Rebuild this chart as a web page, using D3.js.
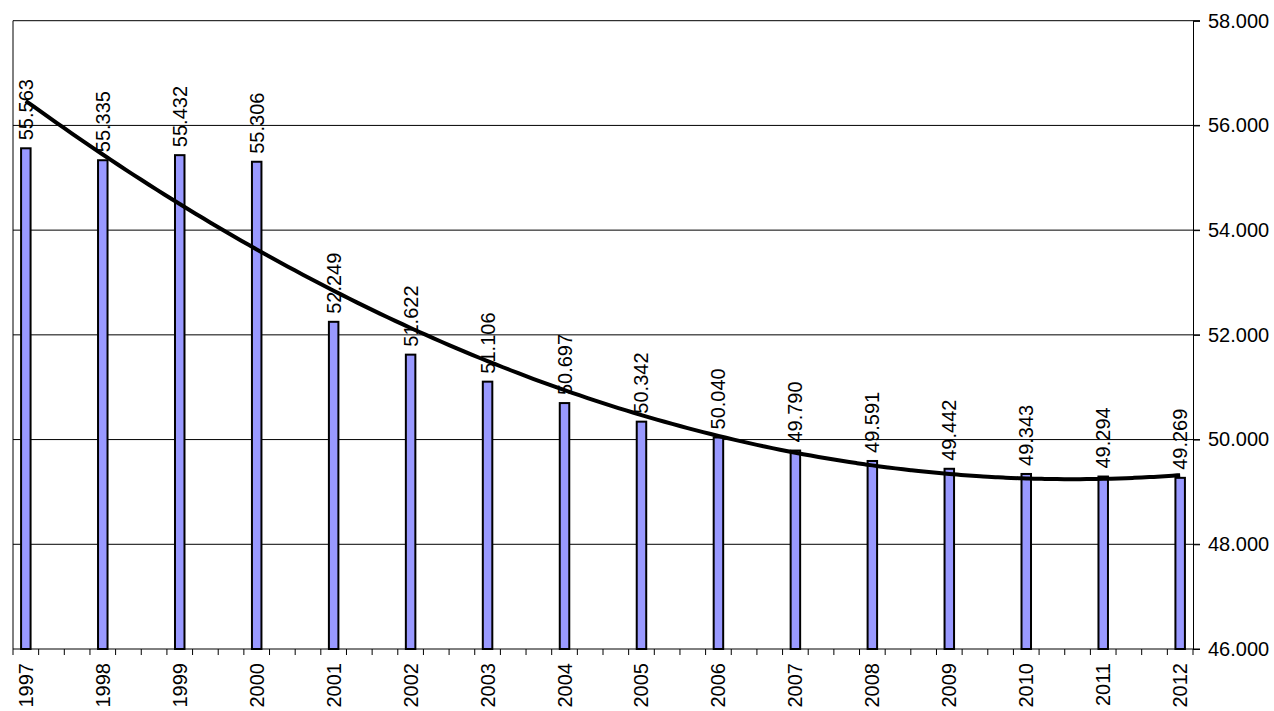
<!DOCTYPE html>
<html>
<head>
<meta charset="utf-8">
<script src="https://cdn.jsdelivr.net/npm/d3@7"></script>
<style>
  body { margin: 0; background: #fff; }
  svg text { font-family: "Liberation Sans", Arial, sans-serif; fill: #000; }
</style>
</head>
<body>
<svg id="chart" width="1274" height="711"></svg>
<script>
// chart data
const years = ["1997", "1998", "1999", "2000", "2001", "2002", "2003", "2004",
    "2005", "2006", "2007", "2008", "2009", "2010", "2011", "2012"];
const values = [55.563, 55.335, 55.432, 55.306, 52.249, 51.622, 51.106, 50.697,
    50.342, 50.040, 49.790, 49.591, 49.442, 49.343, 49.294, 49.269];
const yTicks = [46, 48, 50, 52, 54, 56, 58];
const slotsPerYear = 3; // category axis has three tick slots per year

const margin = { left: 13, right: 81, top: 20.7, bottom: 62 };
const width = 1274, height = 711;
const nSlots = (years.length - 1) * slotsPerYear + 1;

const svg = d3.select("#chart");

const x = d3.scaleBand()
    .domain(d3.range(nSlots))
    .range([margin.left, width - margin.right])
    .paddingInner(0).paddingOuter(0);

const y = d3.scaleLinear()
    .domain([46, 58])
    .range([height - margin.bottom, margin.top]);

const xc = i => x(i * slotsPerYear) + x.bandwidth() / 2;
const fmt = d3.format(".3f");

// gridlines (with the little tick stub to the right)
svg.append("g")
    .selectAll("line")
    .data(yTicks.filter(d => d > 46))
    .enter().append("line")
    .attr("x1", margin.left)
    .attr("x2", width - margin.right + 7)
    .attr("y1", d => y(d))
    .attr("y2", d => y(d))
    .attr("stroke", "#000")
    .attr("stroke-width", 1);

// left border
svg.append("line")
    .attr("x1", margin.left).attr("x2", margin.left)
    .attr("y1", y(58)).attr("y2", y(46))
    .attr("stroke", "#000");

// right value axis
const yAxis = svg.append("g")
    .attr("transform", `translate(${width - margin.right},0)`)
    .call(d3.axisRight(y).tickValues(yTicks).tickFormat(fmt).tickSize(7).tickPadding(8));
yAxis.select(".domain").attr("stroke", "#000");
yAxis.selectAll(".tick line").attr("stroke", "#000");
yAxis.selectAll("text").style("font-size", "20px").attr("fill", "#000");

// bars
const barW = 9.5;
svg.append("g")
    .selectAll("rect")
    .data(values)
    .enter().append("rect")
    .attr("x", (d, i) => xc(i) - barW / 2)
    .attr("width", barW)
    .attr("y", d => y(d))
    .attr("height", d => y(46) - y(d))
    .attr("fill", "#9999FF")
    .attr("stroke", "#000")
    .attr("stroke-width", 2);

// category axis
const xAxisY = y(46);
svg.append("line")
    .attr("x1", margin.left).attr("x2", width - margin.right + 7)
    .attr("y1", xAxisY).attr("y2", xAxisY)
    .attr("stroke", "#000");

svg.append("g")
    .selectAll("line")
    .data(d3.range(nSlots + 1))
    .enter().append("line")
    .attr("x1", d => margin.left + d * x.step())
    .attr("x2", d => margin.left + d * x.step())
    .attr("y1", xAxisY)
    .attr("y2", xAxisY + 6)
    .attr("stroke", "#000");

svg.append("g")
    .selectAll("text")
    .data(years)
    .enter().append("text")
    .attr("transform", (d, i) => `translate(${xc(i)},${xAxisY + 14}) rotate(-90)`)
    .attr("text-anchor", "end")
    .attr("dy", "0.35em")
    .style("font-size", "20px")
    .text(d => d);

// polynomial (order 2) trendline fitted to the values
const n = values.length;
const tMean = (n - 1) / 2;
let s2 = 0, s4 = 0, sy = 0, sty = 0, st2y = 0;
values.forEach((v, i) => {
    const t = i - tMean;
    s2 += t * t; s4 += t * t * t * t;
    sy += v; sty += t * v; st2y += t * t * v;
});
const cq = (st2y - s2 * sy / n) / (s4 - s2 * s2 / n);
const aq = (sy - cq * s2) / n;
const bq = sty / s2;
const trend = t => aq + bq * (t - tMean) + cq * (t - tMean) * (t - tMean);

const trendPts = d3.range(0, n - 1 + 0.001, 0.1).map(t => [t, trend(t)]);
const xLin = d3.scaleLinear().domain([0, n - 1]).range([xc(0), xc(n - 1)]);

svg.append("path")
    .datum(trendPts)
    .attr("d", d3.line().x(d => xLin(d[0])).y(d => y(d[1])).curve(d3.curveMonotoneX))
    .attr("fill", "none")
    .attr("stroke", "#000")
    .attr("stroke-width", 4);

// data labels
svg.append("g")
    .selectAll("text")
    .data(values)
    .enter().append("text")
    .attr("transform", (d, i) => `translate(${Math.min(Math.max(xc(i), margin.left + 5), width - margin.right - 4)},${y(d) - 8}) rotate(-90)`)
    .attr("text-anchor", "start")
    .attr("dy", "0.35em")
    .style("font-size", "20px")
    .text(d => fmt(d));
</script>
</body>
</html>
